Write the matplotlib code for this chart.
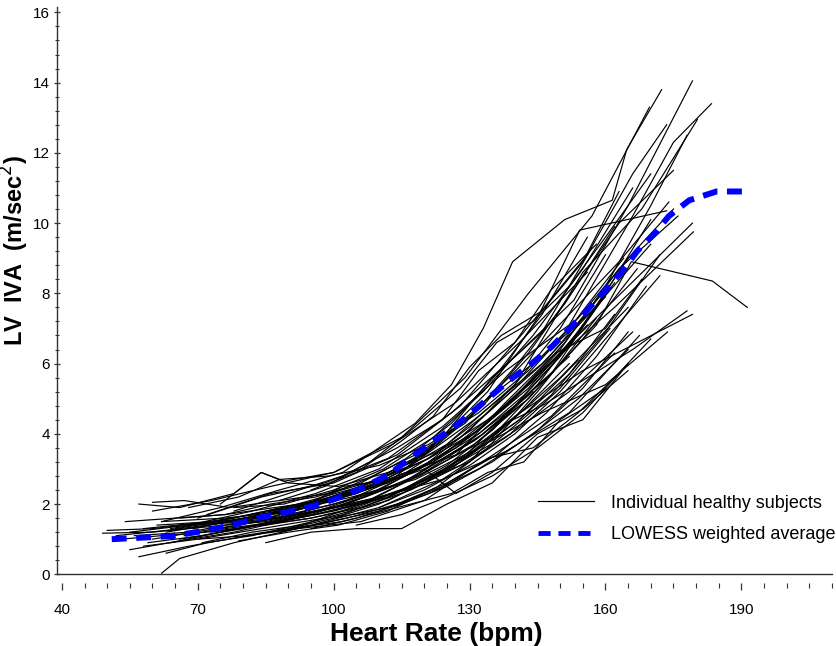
import matplotlib
matplotlib.use("Agg")
import matplotlib.pyplot as plt
from matplotlib.ticker import MultipleLocator
from matplotlib.lines import Line2D

plt.rcParams['font.family'] = ['Liberation Sans', 'DejaVu Sans']

# heart rate (bpm) and LV IVA (m/sec^2) for each individual subject
subj_hr = [
    [70, 84, 98, 112, 126, 140, 153, 165, 179.2],
    [62, 75, 88, 102, 118, 126, 133, 139.5, 151, 161.5, 164.7, 172.4],
    [68, 82, 96, 110, 124, 138, 152, 166, 175, 183.4],
    [60, 73, 86, 100, 115, 129, 143, 157, 169.7],
    [65, 80, 95, 110, 125, 140, 155, 168, 180.3],
    [72, 86, 100, 114, 128, 142, 156, 166, 173.5],
    [64, 78, 92, 106, 120, 134, 145, 154.3, 173.5],
    [66, 80, 94, 108, 122, 136, 150, 165, 179.2],
    [63, 77, 91, 105, 119, 133, 147, 162, 179.4],
    [60, 74, 88, 103, 118, 133, 148, 158, 165.7, 183.6, 191.3],
    [58, 70, 84, 98, 112, 126, 140, 155, 179.2],
    [62, 76, 90, 104, 118, 132, 146, 160, 173.7],
    [55, 68, 82, 96, 110, 124, 138, 152, 167.5],
    [62, 66, 78, 92, 106, 120, 134, 148, 162],
    [85, 95, 105, 115, 125, 135, 145, 155, 165],
    [49, 60, 72, 85, 100, 115, 128, 140, 152],
    [52, 63, 75, 88, 102, 117, 131, 146, 160],
    [55, 66, 78, 92, 106, 120, 136, 150, 165],
    [57, 68, 81, 95, 110, 124, 138, 152, 166],
    [57, 66, 78, 84, 89, 100, 113, 127, 141, 156],
    [50, 60, 70, 82, 95, 108, 121, 134, 147, 160],
    [56, 68, 80, 92, 104, 116, 128, 140, 152, 164],
    [59, 71, 83, 95, 107, 119, 131, 143, 155, 167],
    [61, 73, 85, 97, 109, 121, 133, 145, 157, 170],
    [64, 75, 86, 97, 108, 119, 130, 141, 152, 162],
    [67, 79, 91, 103, 115, 127, 139, 151, 163, 176],
    [69, 80, 91, 102, 113, 124, 135, 146, 157],
    [71, 82, 93, 104, 115, 126, 137, 148, 159, 170],
    [74, 85, 96, 107, 118, 129, 140, 151, 162],
    [76, 88, 100, 112, 124, 136, 148, 160, 172],
    [78, 89, 100, 111, 122, 133, 144, 155, 166],
    [80, 90, 100, 110, 120, 130, 140, 150, 160],
    [82, 92, 102, 112, 122, 132, 142, 152, 162],
    [85, 95, 105, 115, 125, 135, 145, 155],
    [88, 99, 110, 121, 132, 143, 154, 165],
    [90, 100, 110, 120, 130, 140, 150, 160],
    [66, 76, 86, 96, 106, 116, 126, 136, 146, 156],
    [53, 62, 72, 84, 96, 108, 120, 132, 144],
    [58, 69, 80, 92, 104, 116, 128, 141, 154],
    [63, 72, 82, 92, 102, 112, 122, 132, 142, 152],
    [70, 81, 92, 103, 114, 125, 136, 147, 158, 169],
    [73, 84, 95, 106, 117, 128, 139, 150, 161],
    [60, 67, 77, 88, 99, 110, 121, 132, 143, 154, 165],
    [68, 79, 88, 99, 110, 121, 132, 143, 154, 165, 175],
    [75, 84, 90, 101, 112, 123, 134, 145, 156],
    [95, 105, 115, 125, 135, 145, 155, 165],
    [100, 110, 120, 130, 140, 150, 160, 170, 178],
    [93, 103, 113, 123, 133, 143, 153, 163, 175],
    [105, 115, 125, 135, 145, 155, 165],
    [110, 120, 130, 140, 150, 160, 172],
    [120, 127, 135, 145, 155, 165],
    [86, 97, 108, 119, 130, 141, 152, 163, 174],
    [54, 65, 76, 87, 98, 109, 120, 131, 142],
    [79, 90, 101, 112, 123, 134, 145, 158],
    [95, 105, 115, 122, 130, 137, 146, 155, 163],
    [88, 98, 108, 118, 128, 136, 144, 152, 160, 170],
    [78, 90, 102, 114, 124, 132, 140, 148, 158],
    [90, 102, 114, 126, 134, 142, 150, 160],
    [100, 112, 124, 134, 144, 154, 162, 170],
    [112, 122, 130, 138, 146, 156, 166, 178],
    [83, 94, 105, 116, 127, 138, 149, 160, 168],
]
subj_iva = [
    [1.6, 2.2, 2.6, 3.3, 4.6, 6.2, 7.8, 10.5, 14.05],
    [1.5, 1.9, 2.4, 2.9, 4.3, 5.4, 7.0, 8.9, 10.1, 10.65, 12.1, 13.8],
    [1.4, 1.8, 2.3, 3.0, 4.2, 5.8, 7.1, 10.2, 12.3, 13.4],
    [1.8, 2.1, 2.5, 2.9, 3.9, 5.6, 8.0, 10.2, 13.3],
    [1.3, 1.6, 2.0, 2.6, 3.7, 5.4, 8.6, 10.4, 12.95],
    [1.7, 2.3, 2.6, 3.4, 4.8, 6.9, 9.1, 11.4, 12.8],
    [1.3, 1.6, 2.0, 2.5, 3.4, 5.2, 7.3, 9.8, 10.35],
    [1.0, 1.3, 1.7, 2.3, 3.2, 4.6, 6.3, 8.2, 10.0],
    [1.2, 1.5, 1.8, 2.3, 3.0, 4.2, 5.9, 7.6, 9.75],
    [1.0, 1.3, 1.6, 2.0, 2.8, 4.0, 5.7, 7.1, 8.9, 8.35, 7.6],
    [0.8, 1.0, 1.3, 1.6, 2.1, 3.0, 4.5, 5.8, 7.4],
    [1.5, 1.6, 1.8, 2.2, 2.7, 3.6, 4.6, 5.4, 6.9],
    [1.2, 1.4, 1.5, 1.8, 2.2, 2.7, 3.5, 4.6, 6.8],
    [0.03, 0.45, 0.9, 1.3, 1.5, 2.1, 3.3, 4.5, 6.3],
    [0.9, 1.2, 1.3, 1.3, 2.0, 2.6, 3.9, 4.4, 6.0],
    [1.17, 1.2, 1.35, 1.5, 1.9, 2.6, 3.6, 4.8, 6.2],
    [1.1, 1.25, 1.45, 1.8, 2.3, 3.1, 4.4, 6.0, 7.9],
    [0.7, 0.95, 1.2, 1.6, 2.0, 2.9, 4.0, 5.6, 7.6],
    [0.5, 0.8, 1.1, 1.4, 1.9, 2.7, 3.9, 5.2, 6.9],
    [2.0, 1.9, 2.3, 2.9, 2.65, 2.9, 3.7, 4.9, 6.6, 8.6],
    [1.25, 1.3, 1.45, 1.7, 2.0, 2.5, 3.3, 4.6, 6.1, 8.1],
    [1.1, 1.2, 1.5, 1.9, 2.3, 2.9, 3.9, 5.3, 7.0, 9.0],
    [0.9, 1.1, 1.4, 1.7, 2.2, 2.8, 3.7, 5.0, 6.7, 8.7],
    [1.4, 1.5, 1.6, 2.0, 2.6, 3.5, 4.9, 6.1, 7.5, 9.4],
    [0.9, 1.2, 1.5, 1.8, 2.1, 2.6, 3.4, 4.4, 5.7, 7.4],
    [1.1, 1.4, 1.7, 2.1, 2.8, 3.6, 4.9, 6.6, 8.7, 10.2],
    [1.3, 1.6, 1.8, 2.5, 2.7, 3.9, 5.6, 6.9, 9.3],
    [0.9, 1.2, 1.4, 1.9, 2.4, 3.1, 4.2, 5.7, 7.8, 10.1],
    [1.5, 1.8, 2.1, 2.7, 3.4, 4.3, 5.9, 7.7, 9.9],
    [1.3, 1.5, 1.8, 2.2, 2.9, 3.8, 5.1, 6.9, 9.1],
    [1.9, 2.0, 2.4, 3.0, 3.9, 5.2, 6.8, 8.7, 11.0],
    [1.1, 1.3, 1.6, 2.0, 2.6, 3.5, 4.8, 6.2, 8.0],
    [1.6, 1.9, 2.2, 2.6, 3.2, 4.0, 5.1, 6.5, 8.3],
    [1.4, 1.6, 1.9, 2.4, 3.1, 4.1, 5.4, 7.1],
    [1.2, 1.5, 1.8, 2.3, 3.0, 3.9, 5.0, 6.4],
    [1.7, 2.0, 2.4, 3.1, 4.1, 5.4, 7.0, 9.1],
    [1.6, 1.7, 2.0, 2.2, 2.6, 3.3, 4.3, 5.7, 7.4, 9.6],
    [1.0, 1.1, 1.2, 1.4, 1.7, 2.1, 2.9, 3.9, 5.2],
    [1.3, 1.45, 1.5, 1.7, 2.0, 2.4, 3.2, 4.4, 6.1],
    [0.6, 0.9, 1.1, 1.4, 1.7, 2.2, 2.8, 3.6, 4.7, 6.0],
    [1.0, 1.1, 1.3, 1.6, 2.0, 2.6, 3.4, 4.6, 6.2, 8.2],
    [1.2, 1.4, 1.6, 1.9, 2.4, 3.1, 4.0, 5.3, 7.0],
    [2.05, 2.1, 1.9, 2.1, 2.3, 2.7, 3.3, 4.1, 5.3, 6.9, 9.0],
    [1.9, 2.2, 2.7, 2.8, 3.1, 3.7, 4.6, 5.8, 7.3, 9.0, 10.4],
    [2.0, 2.9, 2.6, 2.5, 2.9, 3.5, 4.4, 5.6, 7.1],
    [1.3, 1.6, 2.0, 2.5, 3.2, 4.1, 5.3, 6.9],
    [2.2, 2.6, 3.1, 3.9, 5.0, 6.4, 8.2, 10.5, 12.5],
    [2.0, 2.3, 2.9, 3.7, 4.8, 6.3, 8.1, 10.0, 11.5],
    [1.4, 1.7, 2.2, 2.8, 3.6, 4.6, 6.0],
    [1.9, 2.4, 3.1, 4.0, 5.2, 6.7, 8.5],
    [3.0, 2.3, 2.9, 4.0, 4.7, 5.8],
    [1.8, 2.1, 2.6, 3.4, 4.5, 5.9, 7.4, 8.9, 10.6],
    [1.5, 1.6, 1.7, 1.9, 2.1, 2.5, 3.0, 3.8, 4.9],
    [0.95, 1.2, 1.4, 1.8, 2.5, 3.6, 5.2, 7.3],
    [2.4, 2.9, 3.8, 4.5, 5.9, 6.8, 7.5, 8.9, 10.9],
    [2.1, 2.5, 3.2, 4.2, 5.3, 6.6, 7.2, 8.2, 9.6, 11.4],
    [1.8, 2.3, 2.8, 3.6, 4.4, 5.8, 6.6, 8.1, 9.4],
    [1.3, 1.5, 1.9, 2.3, 2.9, 3.2, 4.4, 5.3],
    [1.6, 1.9, 2.5, 3.3, 3.6, 4.6, 5.6, 6.7],
    [2.2, 2.8, 3.2, 4.3, 4.8, 5.6, 6.4, 7.5],
    [1.5, 1.9, 2.3, 2.9, 3.4, 4.9, 6.3, 7.0, 8.4],
]

# LOWESS weighted average
lowess_hr = [51, 58.7, 64.5, 71, 77.5, 83.2, 89.6, 95.4, 100.2, 107, 112.4, 116.8,
             121, 126, 130.4, 134.9, 139.3, 143.7, 148.3, 155.8, 163.5, 167,
             170.8, 174, 178.5, 184.5, 190.3, 192]
lowess_iva = [1.0, 1.05, 1.09, 1.23, 1.4, 1.6, 1.77, 1.94, 2.14, 2.5, 2.86, 3.3,
              3.7, 4.14, 4.6, 5.1, 5.57, 6.0, 6.5, 7.5, 8.6, 9.2,
              9.7, 10.2, 10.65, 10.9, 10.9, 10.8]

fig = plt.figure(figsize=(8.37, 6.46), dpi=100)
ax = fig.add_axes([0.068, 0.111, 0.926, 0.878])

for hr, iva in zip(subj_hr, subj_iva):
    ax.plot(hr, iva, color='black', lw=0.85, zorder=2)

ax.plot(lowess_hr, lowess_iva, color='#0000ff', lw=4.3, dashes=(2.5, 1.6),
        zorder=3)

ax.set_xlim(38.9, 210)
ax.set_ylim(0, 16.15)
ax.xaxis.set_major_locator(MultipleLocator(30))
ax.xaxis.set_minor_locator(MultipleLocator(5))
ax.yaxis.set_major_locator(MultipleLocator(2))
ax.yaxis.set_minor_locator(MultipleLocator(0.4))

for s in ['top', 'right']:
    ax.spines[s].set_visible(False)
ax.spines['left'].set_linewidth(1.0)
ax.spines['left'].set_color('#333333')
ax.spines['bottom'].set_position(('outward', 6))
ax.spines['bottom'].set_visible(False)
ax.axhline(0, color='#333333', lw=1.0, zorder=4, clip_on=False)

ax.tick_params(axis='x', which='major', direction='out', length=5, width=0.9,
               pad=10, labelsize=11, color='#333333')
ax.tick_params(axis='x', which='minor', direction='out', length=3.5, width=0.8,
               color='#333333')
ax.tick_params(axis='y', which='major', direction='inout', length=4, width=0.9,
               pad=3, labelsize=11, color='#333333')
ax.tick_params(axis='y', which='minor', direction='inout', length=2.5,
               width=0.8, color='#333333')
ax.set_xticks([40, 70, 100, 130, 160, 190])
ax.set_xticklabels(['40', '70', '100', '130', '160', '190'])

ax.set_xlabel('Heart Rate (bpm)', fontsize=19, fontweight='bold')
ax.xaxis.set_label_coords(0.49, -0.084)
ax.set_ylabel('LV  IVA  (m/sec$^2$)', fontsize=17, fontweight='bold')
ax.yaxis.set_label_coords(-0.033, 0.571)

handles = [Line2D([], [], color='black', lw=0.85),
           Line2D([], [], color='#0000ff', lw=3.5, dashes=(2.5, 1.6))]
fig.legend(handles, ['Individual healthy subjects', 'LOWESS weighted average'],
           loc='center left', bbox_to_anchor=(0.643, 0.197), frameon=False,
           fontsize=13, handlelength=3.1, handletextpad=0.95, labelspacing=0.8,
           borderpad=0, borderaxespad=0)

fig.savefig('out.png', dpi=100)
